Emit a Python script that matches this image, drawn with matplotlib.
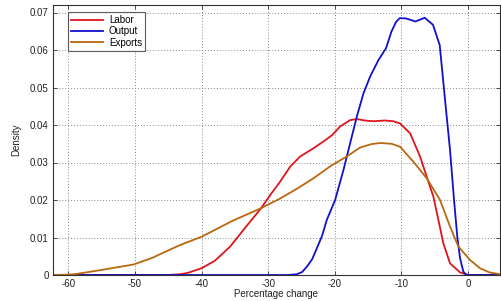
import matplotlib
matplotlib.use("Agg")
import matplotlib.pyplot as plt

# Output (blue)
out_x = [-62.3, -27, -25.7, -24.9, -24.2, -23.4, -22.7, -21.9, -21.2, -19.95, -18.7, -17.7, -16.7, -15.7,
         -14.7, -13.45, -12.3, -11.5, -10.8, -10.25, -9.25, -7.9, -6.5, -5.25, -4.25, -3.45,
         -2.7, -2.1, -1.6, -1.2, -0.7, -0.3, 0.0, 4.8]
out_y = [0, 0, 0.0002, 0.0008, 0.0022, 0.0042, 0.0071, 0.0105, 0.0147, 0.020, 0.028, 0.0351, 0.0422,
         0.0484, 0.0529, 0.0573, 0.0605, 0.0649, 0.0675, 0.0685, 0.0684, 0.0676, 0.0686, 0.0667, 0.0613,
         0.0467, 0.0333, 0.020, 0.010, 0.0045, 0.0009, 0.0001, 0.0, 0.0]

# Labor (red)
lab_x = [-62.3, -45, -43.2, -42, -40, -38, -35.7, -33.5, -31.2, -29.5, -28.2, -26.7, -25.2, -23.2, -21.7,
         -20.4, -19.2, -17.7, -16.7, -15.5, -14.2, -12.5, -11.2, -10.2, -8.7, -7.2, -6.2, -5.2, -4.45,
         -3.7, -2.7, -1.2, 0.0, 4.8]
lab_y = [0, 0, 0.0002, 0.0006, 0.0018, 0.0038, 0.0076, 0.0125, 0.0175, 0.0218, 0.0249, 0.0289, 0.0316,
         0.0338, 0.0356, 0.0373, 0.0396, 0.0413, 0.0416, 0.0412, 0.041, 0.0412, 0.041, 0.0404, 0.0378,
         0.0316, 0.0262, 0.0209, 0.0147, 0.0084, 0.0031, 0.0007, 0.0, 0.0]

# Exports (brown)
exp_x = [-62.3, -60, -58.7, -55.2, -50.2, -47.5, -45.2, -43.2, -40, -35.3, -31.2, -28.2, -25.5, -23.2,
         -20.5, -18.2, -16.2, -14.5, -13.2, -11.5, -10.2, -8.2, -6.2, -4.2, -2.7, -1.45, 0.3, 1.8,
         3.2, 4.8]
exp_y = [0.0, 0.0001, 0.0003, 0.0013, 0.0028, 0.0045, 0.0064, 0.0080, 0.0102, 0.0145, 0.0177, 0.0204,
         0.0232, 0.0258, 0.0292, 0.0316, 0.034, 0.0349, 0.0352, 0.0350, 0.0342, 0.0302, 0.0258, 0.020,
         0.0129, 0.0076, 0.004, 0.0018, 0.0007, 0.0002]

x_ticks = [-60, -50, -40, -30, -20, -10, 0]
y_ticks = [0, 0.01, 0.02, 0.03, 0.04, 0.05, 0.06, 0.07]
y_ticklabels = ["0", "0.01", "0.02", "0.03", "0.04", "0.05", "0.06", "0.07"]

plt.rcParams['font.family'] = ['Liberation Sans', 'DejaVu Sans']
plt.rcParams['font.size'] = 7

fig = plt.figure(figsize=(5.01, 3.01), dpi=100)
ax = fig.add_axes([53/501, 1-275/301, 447/501, 270/301])

ax.plot(lab_x, lab_y, color='#e0141c', lw=1.3, label='Labor')
ax.plot(out_x, out_y, color='#1010d0', lw=1.3, label='Output')
ax.plot(exp_x, exp_y, color='#b8680f', lw=1.3, label='Exports')

ax.set_xlim(-62.3, 4.8)
ax.set_ylim(0, 0.072)
ax.set_xticks(x_ticks)
ax.set_xticklabels([str(v) for v in x_ticks])
ax.set_yticks(y_ticks)
ax.set_yticklabels(y_ticklabels)
ax.tick_params(direction='in', top=True, right=True, length=3, width=0.6, colors='#333333',
               labelcolor='#222222', labelsize=7, pad=3)
ax.grid(True, linestyle=(0, (1, 2)), color='#888888', linewidth=0.7)
for s in ax.spines.values():
    s.set_color('#333333')
    s.set_linewidth(0.8)

ax.set_xlabel('Percentage change', fontsize=7, labelpad=0, color='#222222')
ax.set_ylabel('Density', fontsize=7, labelpad=6, color='#222222')

leg = ax.legend(loc='upper left', bbox_to_anchor=(0.0336, 0.974), fontsize=7, frameon=True,
                fancybox=False, edgecolor='#333333', handlelength=3.3, handletextpad=0.6,
                borderpad=0.3, labelspacing=0.15, borderaxespad=0)
leg.get_frame().set_linewidth(0.8)

fig.savefig('out.png', dpi=100)
